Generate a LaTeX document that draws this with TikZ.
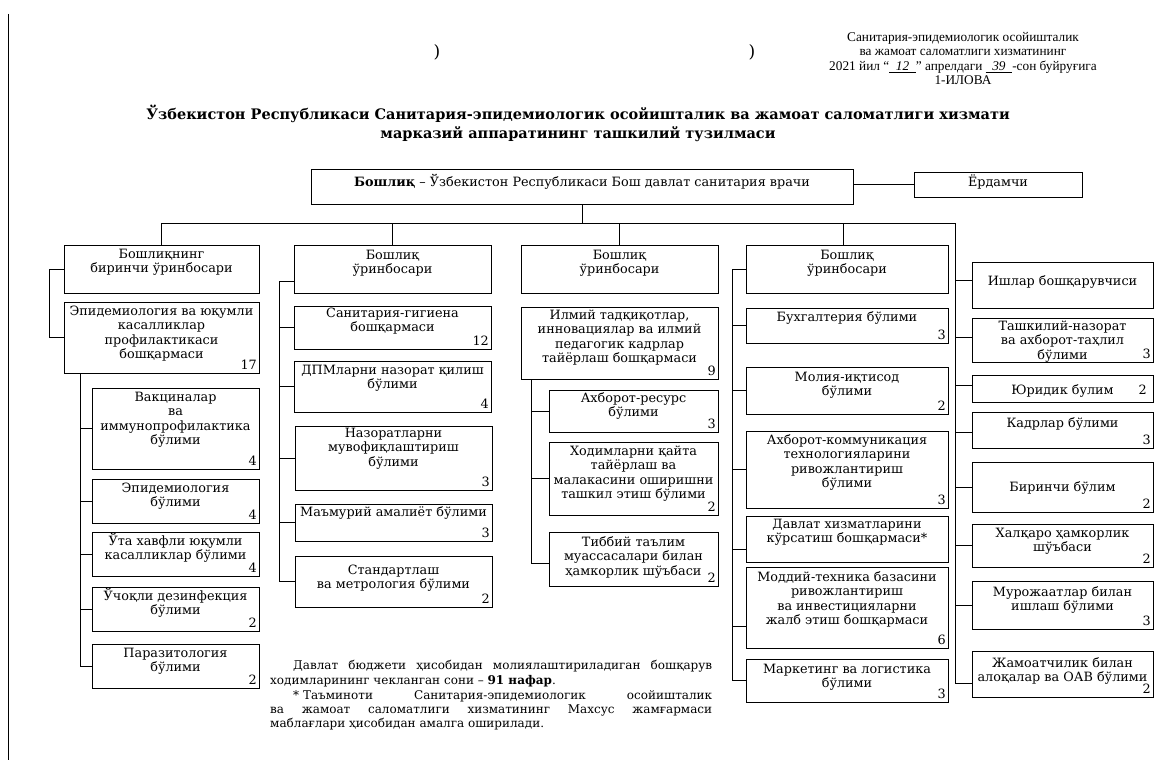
\documentclass[tikz,border=0pt]{standalone}
\usepackage{fontspec}
\setmainfont{DejaVu Serif}
\newfontfamily\hdrfont{Liberation Serif}
\usetikzlibrary{calc}
\tikzset{
  box/.style={draw, line width=0.9pt, inner sep=0pt, outer sep=0pt},
  txt/.style={inner sep=0pt, font=\fontsize{12.8}{14.3}\selectfont},
  num/.style={inner sep=0pt, font=\fontsize{12.8}{14}\selectfont},
  conn/.style={line width=0.8pt},
  hdr/.style={inner sep=0pt, anchor=base, font=\hdrfont\fontsize{13.3}{14}\selectfont},
  foot/.style={inner sep=0pt, anchor=base west, font=\fontsize{12}{14}\selectfont},
}
% name, x1, y1, x2, y2, first baseline offset, text, number
\newcommand{\obox}[8]{%
  \node[box, minimum width=#4pt-#2pt, minimum height=#5pt-#3pt, anchor=north west] (#1) at (#2,#3) {};
  \node[txt, anchor=base] (#1-t) at ($(#1.north)+(0,#6)$) {\begin{tabular}[t]{@{}c@{}}#7\end{tabular}};
  \node[num, anchor=base east] (#1-n) at ($(#1.south east)+(-2,-3.5)$) {#8};}
\begin{document}
\begin{tikzpicture}[x=1pt, y=-1pt]
\useasboundingbox (0,0) rectangle (1174,773);
\fill[white] (0,0) rectangle (1174,773);

% page edge line
\draw[line width=1pt] (8,14) coordinate (pgT) -- (8,760) coordinate (pgB);

% stray brackets
\node[inner sep=0pt, font=\fontsize{17}{17}\selectfont] (p1) at (437,52) {)};
\node[inner sep=0pt, font=\fontsize{17}{17}\selectfont] (p2) at (752,52) {)};

% header
\node[hdr] (h1) at (963,42) {Санитария-эпидемиологик осойишталик};
\node[hdr] (h2) at (963,56) {ва жамоат саломатлиги хизматининг};
\node[hdr] (h3) at (963,71) {2021 йил “\underline{\ \ \textit{12}\ \ }” апрелдаги \underline{\ \ \textit{39}\ \ }-сон буйруғига};
\node[hdr] (h4) at (963,85) {1-ИЛОВА};

% title
\node[inner sep=0pt, anchor=base, font=\bfseries\fontsize{14.5}{19}\selectfont] (title) at (578,120)
  {\begin{tabular}[t]{@{}c@{}}Ўзбекистон Республикаси Санитария-эпидемиологик осойишталик ва жамоат саломатлиги хизмати\\марказий аппаратининг ташкилий тузилмаси\end{tabular}};

% top level
\obox{chief}{311}{169}{853}{204}{17.5}{\textbf{Бошлиқ} – Ўзбекистон Республикаси Бош давлат санитария врачи}{}
\obox{yor}{914}{172}{1082}{197}{14.5}{Ёрдамчи}{}

% column 1
\obox{d1}{64}{245}{259}{293}{13.5}{Бошлиқнинг\\биринчи ўринбосари}{}
\obox{e1}{64}{302}{259}{373}{13.5}{Эпидемиология ва юқумли\\касалликлар\\профилактикаси\\бошқармаси}{17}
\obox{c1a}{92}{388}{259}{469}{13.5}{Вакциналар\\ва\\иммунопрофилактика\\бўлими}{4}
\obox{c1b}{92}{479}{259}{523}{13.5}{Эпидемиология\\бўлими}{4}
\obox{c1c}{92}{532}{259}{576}{13.5}{Ўта хавфли юқумли\\касалликлар бўлими}{4}
\obox{c1d}{92}{587}{259}{631}{13.5}{Ўчоқли дезинфекция\\бўлими}{2}
\obox{c1e}{92}{644}{259}{688}{13.5}{Паразитология\\бўлими}{2}

% column 2
\obox{d2}{294}{245}{491}{293}{14.5}{Бошлиқ\\ўринбосари}{}
\obox{c2a}{294}{306}{491}{349}{11.5}{Санитария-гигиена\\бошқармаси}{12}
\obox{c2b}{294}{361}{491}{412}{13.5}{ДПМларни назорат қилиш\\бўлими}{4}
\obox{c2c}{295}{426}{492}{490}{11.5}{Назоратларни\\мувофиқлаштириш\\бўлими}{3}
\obox{c2d}{295}{504}{492}{541}{12.5}{Маъмурий амалиёт бўлими}{3}
\obox{c2e}{295}{556}{492}{607}{18}{Стандартлаш\\ва метрология бўлими}{2}

% column 3
\obox{d3}{521}{245}{718}{293}{14.5}{Бошлиқ\\ўринбосари}{}
\obox{c3a}{521}{307}{718}{379}{12.5}{Илмий тадқиқотлар,\\инновациялар ва илмий\\педагогик кадрлар\\тайёрлаш бошқармаси}{9}
\obox{c3b}{549}{390}{718}{432}{12.5}{Ахборот-ресурс\\бўлими}{3}
\obox{c3c}{549}{442}{718}{515}{13.5}{Ходимларни қайта\\тайёрлаш ва\\малакасини оширишни\\ташкил этиш бўлими}{2}
\obox{c3d}{549}{532}{718}{586}{14.5}{Тиббий таълим\\муассасалари билан\\ҳамкорлик шўъбаси}{2}

% column 4
\obox{d4}{746}{245}{948}{293}{14.5}{Бошлиқ\\ўринбосари}{}
\obox{c4a}{746}{308}{948}{343}{13.5}{Бухгалтерия бўлими}{3}
\obox{c4b}{746}{367}{948}{414}{14.5}{Молия-иқтисод\\бўлими}{2}
\obox{c4c}{746}{431}{948}{508}{13.5}{Ахборот-коммуникация\\технологияларини\\ривожлантириш\\бўлими}{3}
\obox{c4d}{746}{516}{948}{562}{12.5}{Давлат хизматларини\\кўрсатиш бошқармаси*}{}
\obox{c4e}{746}{567}{948}{648}{14.5}{Моддий-техника базасини\\ривожлантириш\\ва инвестицияларни\\жалб этиш бошқармаси}{6}
\obox{c4f}{746}{659}{948}{702}{14.5}{Маркетинг ва логистика\\бўлими}{3}

% column 5
\obox{c5a}{972}{262}{1153}{308}{23.5}{Ишлар бошқарувчиси}{}
\obox{c5b}{972}{318}{1153}{362}{12.5}{Ташкилий-назорат\\ва ахборот-таҳлил\\бўлими}{3}
\obox{c5c}{972}{375}{1153}{402}{19.5}{Юридик булим}{}
\node[num, anchor=base east] (c5c-n) at ($(c5c.south east)+(-6,-7.5)$) {2};
\obox{c5d}{972}{412}{1153}{448}{15.5}{Кадрлар бўлими}{3}
\obox{c5e}{972}{462}{1153}{512}{29.5}{Биринчи бўлим}{2}
\obox{c5f}{972}{524}{1153}{567}{13.5}{Халқаро ҳамкорлик\\шўъбаси}{2}
\obox{c5g}{972}{581}{1153}{629}{15.5}{Мурожаатлар билан\\ишлаш бўлими}{3}
\obox{c5h}{972}{651}{1153}{697}{16.5}{Жамоатчилик билан\\алоқалар ва ОАВ бўлими}{2}

% connectors: top
\draw[conn] (yor.west) -- (yor.west -| chief.east);
\coordinate (busL) at (161.5,223);
\coordinate (busR) at (955,223);
\coordinate (t5b) at (955,683);
\draw[conn] (chief.south) -- (chief.south |- busL);
\draw[conn] (d1.north) |- (busR) -- (t5b) -- (t5b -| c5h.west);
\draw[conn] (d2.north) -- (d2.north |- busL);
\draw[conn] (d3.north) -- (d3.north |- busL);
\draw[conn] ([xshift=-4pt]d4.north) -- ++(0,-22);

% column 1 connectors
\draw[conn] (d1.west) -- ++(-15,0) |- (e1.west);
\coordinate (t1) at (80,373);
\draw[conn] (t1) |- (c1e.west);
\foreach \b in {c1a,c1b,c1c,c1d} \draw[conn] (\b.west) -- (\b.west -| t1);

% column 2 connectors
\coordinate (t2) at (279,281);
\draw[conn] (t2 -| d2.west) -- (t2) |- (c2e.west);
\foreach \b in {c2a,c2b,c2c,c2d} \draw[conn] (\b.west) -- (\b.west -| t2);

% column 3 connectors
\coordinate (t3) at (531,379);
\coordinate (t3b) at (531,563);
\draw[conn] (t3) -- (t3b) -- (t3b -| c3d.west);
\foreach \b in {c3b,c3c} \draw[conn] (\b.west) -- (\b.west -| t3);

% column 4 connectors
\coordinate (t4) at (732,269);
\draw[conn] (d4.west) -- (t4) |- (c4f.west);
\foreach \b in {c4a,c4b,c4c} \draw[conn] (\b.west) -- (\b.west -| t4);
\draw[conn] ([yshift=-10pt]c4d.west) -- ++(-14,0);
\draw[conn] ([yshift=-18.5pt]c4e.west) -- ++(-14,0);

% column 5 stubs
\draw[conn] ([yshift=5pt]c5a.west) -- ++(-17,0);
\draw[conn] ([yshift=3pt]c5b.west) -- ++(-17,0);
\draw[conn] ([yshift=3.5pt]c5c.west) -- ++(-17,0);
\draw[conn] ([yshift=-2pt]c5d.west) -- ++(-17,0);
\foreach \b in {c5e,c5f,c5g} \draw[conn] (\b.west) -- ++(-17,0);

% footnote
\node[foot] (fn1) at (293,669) {\makebox[419pt][s]{Давлат бюджети ҳисобидан молиялаштириладиган бошқарув}};
\node[foot] (fn2) at (270,684) {ходимларининг чекланган сони – \textbf{91 нафар}.};
\node[foot] (fn3) at (293,699) {\makebox[419pt][s]{\mbox{* Таъминоти} Санитария-эпидемиологик осойишталик}};
\node[foot] (fn4) at (270,713) {\makebox[442pt][s]{ва жамоат саломатлиги хизматининг Махсус жамғармаси}};
\node[foot] (fn5) at (270,727) {маблағлари ҳисобидан амалга оширилади.};
\end{tikzpicture}
\end{document}
